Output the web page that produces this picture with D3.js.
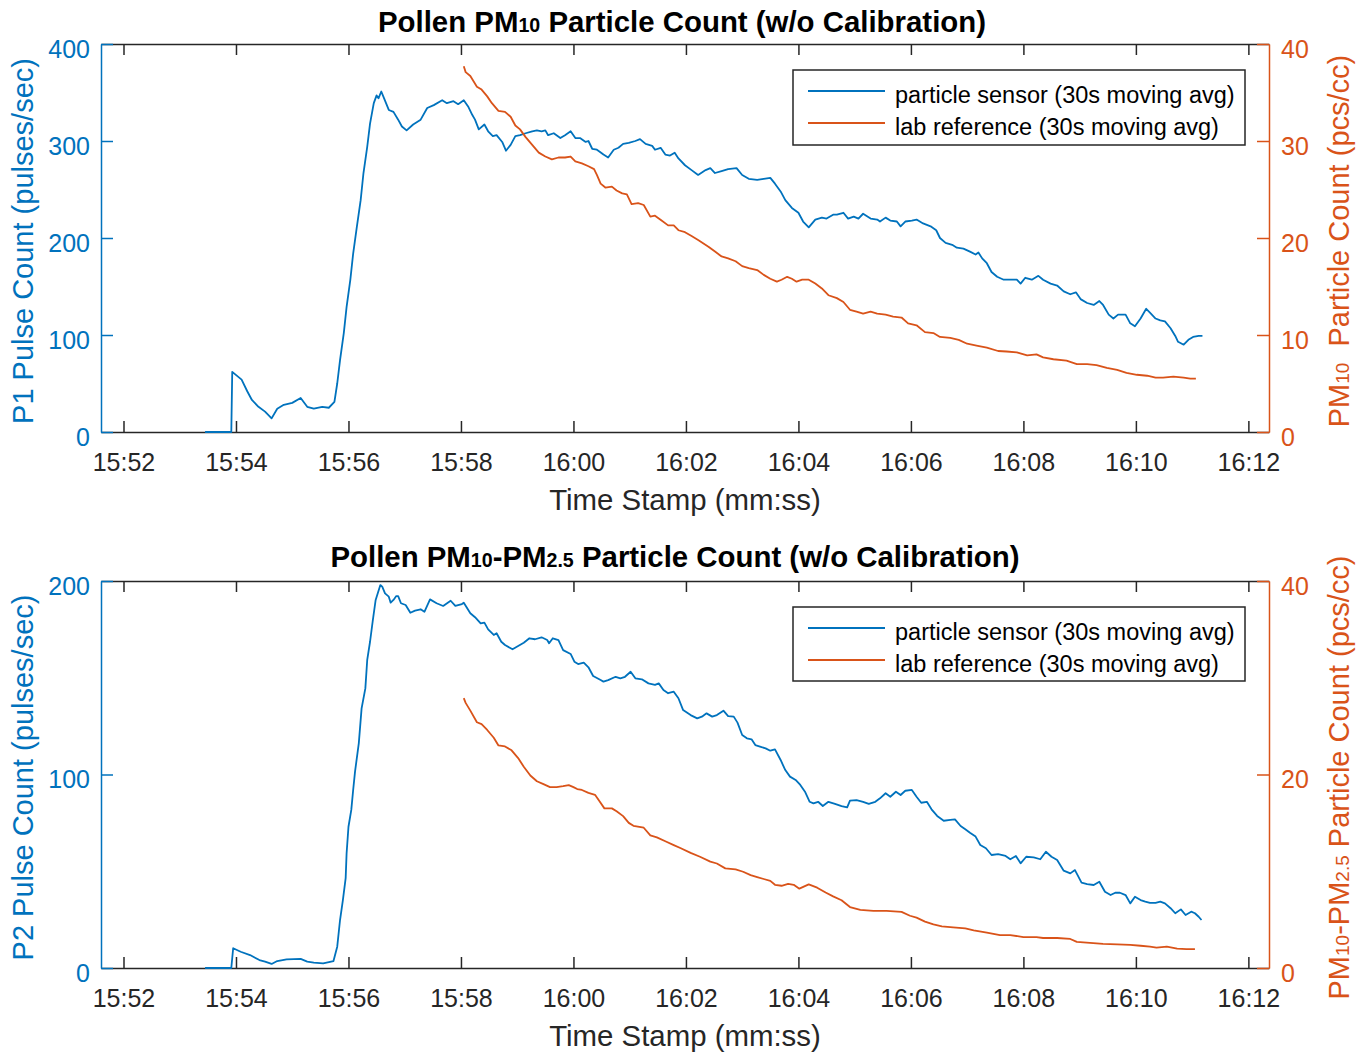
<!DOCTYPE html>
<html>
<head>
<meta charset="utf-8">
<script src="https://cdn.jsdelivr.net/npm/d3@7"></script>
<style>
body { margin: 0; background: #fff; }
text { font-family: "Liberation Sans", Arial, Helvetica, sans-serif; }
</style>
</head>
<body>
<script>
// times are seconds after 15:52:00
const p1Time = [87,115,116,126,132,137,144,151,158,164,
  171,180,189,196,203,212,219,225,228,231,
  235,238,242,245,249,253,256,260,263,267,
  270,272,275,278,283,288,293,297,302,309,
  317,324,331,340,345,352,357,363,368,372,
  375,379,385,389,394,398,404,408,413,418,
  423,429,436,441,446,450,453,459,466,471,
  477,482,487,493,496,500,505,508,512,517,
  523,528,533,539,546,551,557,564,567,573,
  578,583,588,592,599,606,613,621,626,631,
  638,645,654,660,667,676,683,690,695,701,
  706,713,720,725,731,738,745,750,757,761,
  768,773,779,784,789,797,804,807,813,818,
  825,829,834,841,846,853,861,867,871,877,
  884,889,896,903,909,912,916,921,926,932,
  939,946,953,957,962,969,976,981,989,996,
  1003,1010,1016,1021,1028,1035,1041,1045,1051,1056,
  1061,1069,1074,1079,1085,1091,1095,1101,1106,1111,
  1117,1122,1125,1131,1136,1141,1147,1151];
const p1Count = [0,0,62,54,42,33,26,21,14,24,
  28,30,35,26,24,26,25,31,50,74,
  102,129,157,184,212,239,267,294,318,339,
  347,344,351,344,332,330,322,315,311,317,
  322,334,337,342,339,341,338,342,335,327,
  322,312,317,310,305,306,299,290,296,305,
  306,308,310,311,310,311,306,308,303,306,
  310,303,303,299,300,292,291,289,286,283,
  291,293,297,298,300,302,297,295,291,293,
  286,285,288,282,275,270,265,270,272,267,
  269,271,272,265,261,260,261,262,256,248,
  239,231,226,217,211,219,221,220,224,224,
  226,220,222,220,225,220,219,217,221,218,
  217,212,217,218,219,215,212,208,200,195,
  193,190,189,186,183,185,179,174,165,160,
  157,157,157,153,159,157,161,157,153,151,
  145,142,144,137,133,131,135,131,121,117,
  121,121,112,109,117,127,123,117,115,114,
  107,99,93,90,95,98,99,99];

const ref10Time = [363,365,370,377,382,388,393,400,407,413,
  418,423,429,436,443,450,457,464,471,477,
  482,489,496,502,505,509,514,521,526,532,
  537,542,549,555,562,567,574,581,587,592,
  599,606,613,624,631,638,645,653,660,667,
  676,683,690,697,702,708,713,718,724,731,
  738,745,752,761,768,775,782,789,797,804,
  813,821,830,837,846,855,864,871,882,891,
  900,910,921,933,942,953,964,974,981,992,
  1006,1017,1028,1038,1049,1060,1070,1081,1092,1101,
  1109,1120,1131,1138,1144];
const ref10 = [37.7,37.1,36.7,35.6,35.3,34.6,33.9,33.1,33.0,32.5,
  31.6,31.2,30.4,29.6,28.8,28.4,28.1,28.3,28.3,28.4,
  27.9,27.7,27.4,27.1,26.5,25.6,25.2,25.3,24.9,24.6,
  24.5,23.5,23.6,23.4,22.2,22.3,21.8,21.3,21.3,20.8,
  20.6,20.2,19.8,19.1,18.6,18.1,17.9,17.6,17.1,16.9,
  16.7,16.2,15.8,15.5,15.7,16.0,15.8,15.5,15.7,15.7,
  15.3,14.8,14.1,13.8,13.4,12.6,12.4,12.2,12.4,12.2,
  12.1,11.9,11.8,11.2,11.0,10.3,10.2,9.8,9.7,9.5,
  9.1,8.9,8.7,8.35,8.3,8.2,7.9,8.0,7.7,7.5,
  7.35,7.0,7.0,6.9,6.6,6.4,6.1,5.9,5.8,5.6,
  5.6,5.7,5.6,5.5,5.5];

const p2Time = [87,115,117,125,135,145,151,158,164,174,
  189,196,203,213,224,228,231,234,237,238,
  240,243,245,247,251,254,258,260,263,266,
  269,271,274,276,279,283,285,288,291,293,
  296,301,306,311,317,321,327,334,341,349,
  354,361,363,370,375,381,385,389,395,398,
  403,407,415,421,427,433,439,446,452,454,
  458,464,469,477,481,485,491,496,501,509,
  512,517,525,530,535,541,546,553,560,567,
  571,576,581,587,592,597,605,612,617,622,
  628,633,640,645,651,655,660,665,670,674,
  679,685,690,695,701,706,711,717,722,727,
  732,736,741,746,752,759,766,772,775,782,
  789,795,802,807,813,818,824,829,834,841,
  846,851,857,862,868,875,882,887,893,898,
  903,909,914,920,926,933,941,946,952,957,
  963,971,978,984,990,996,1003,1010,1015,1022,
  1028,1035,1041,1047,1053,1058,1063,1069,1074,1079,
  1085,1090,1095,1101,1106,1111,1117,1122,1128,1133,
  1139,1143,1147,1150];
const p2Count = [0,0,10.2,8.4,6.7,4.1,3.3,2.1,3.6,4.5,
  4.7,3.3,2.8,2.4,3.6,11,24.8,35,46.4,59.3,
  73,81.7,92,101.5,116.1,134.2,144.5,159.2,168.6,179.8,
  190.2,193.3,197.9,197.1,193.6,191.9,188.8,190.2,192.2,192.2,
  188.5,187.6,183.6,184.7,185.4,184.1,190.5,188.5,187.1,189.8,
  187.1,188.1,188.8,183.3,181.3,178.1,178.5,175,172.1,173,
  168.6,166.9,164.7,166.4,168.1,170.4,169.9,170.9,169.5,167.8,
  170.4,169.5,164.3,162.3,158.3,157.1,157.8,155.4,150.9,148.8,
  148,148.8,150.5,149.7,150.5,153.1,149.7,149.2,147.1,146.3,
  147.1,143.7,142,142.8,139.4,133.3,130.7,129,129.9,131.6,
  129.9,130.7,133,130.2,129.9,126.8,120.4,118.7,118.2,115.2,
  114.4,113.5,112.3,113,107.5,102.3,98.9,97.2,94.6,91.1,
  85.9,85.1,85.9,83.7,85.9,84.8,83.7,83,86.5,86.8,
  85.9,84.8,85.9,87.7,90.3,88.5,91.1,89.4,91.6,92,
  88.5,85.4,85.9,82,78.6,76.1,76.5,76.8,73.4,71.7,
  69.9,67.9,63.6,61.9,58.4,58.9,57.9,56.2,57.9,54.1,
  57.5,57.2,56.2,60.1,57.5,55.8,50.3,48.9,50.6,44.1,
  43.4,42.9,44.6,39.4,37.7,38.9,38.9,37.7,33.4,36.8,
  35.1,34.3,33.7,33.7,34.3,33.4,30.9,28.3,30.3,27.4,
  29.1,28.3,26.5,24.8];

const ref25Time = [363,365,370,377,382,388,395,400,407,414,
  421,427,434,441,448,455,462,469,475,480,
  484,489,496,503,508,513,521,526,533,539,
  544,555,562,569,578,587,594,605,615,626,
  633,642,653,661,669,676,683,690,695,702,
  709,715,721,731,740,749,757,766,775,786,
  800,814,830,839,846,855,864,873,885,898,
  907,921,935,946,960,974,981,996,1010,1017,
  1031,1045,1060,1074,1085,1095,1102,1113,1124,1134,
  1143];
const ref25 = [27.9,27.4,26.6,25.4,25.2,24.6,23.8,23.0,22.9,22.5,
  21.7,20.8,19.9,19.3,19.0,18.7,18.7,18.8,18.9,18.7,
  18.5,18.4,18.1,17.9,17.2,16.5,16.5,16.2,15.7,15.0,
  14.7,14.5,13.7,13.5,13.1,12.7,12.4,11.9,11.5,11.0,
  10.8,10.3,10.2,9.95,9.6,9.4,9.2,9.0,8.6,8.5,
  8.7,8.6,8.2,8.65,8.3,7.8,7.4,7.0,6.3,6.0,
  5.9,5.9,5.8,5.4,5.2,4.8,4.5,4.3,4.2,4.1,
  3.9,3.65,3.4,3.4,3.2,3.2,3.1,3.1,3.0,2.7,
  2.6,2.5,2.45,2.4,2.3,2.2,2.1,2.2,2.0,1.95,
  1.95];

const legendLabels = ["particle sensor (30s moving avg)", "lab reference (30s moving avg)"];
const p1Ticks = [0,100,200,300,400];
const p2Ticks = [0,100,200];
const ref10Ticks = [0,10,20,30,40];
const ref25Ticks = [0,20,40];

const blue = "#0072BD", orange = "#D95319", ink = "#262626";
const base = new Date(2000, 0, 1, 15, 52, 0);
const at = s => new Date(base.getTime() + s * 1000);

const svg = d3.select("body").append("svg")
  .attr("width", 1370)
  .attr("height", 1055);

const L = 101, R = 1269;
const x = d3.scaleTime()
  .domain([at(-24), at(1222)])
  .range([L, R]);
const timeTicks = d3.range(0, 1201, 120).map(at);

const panels = [
  {top: 44, bottom: 432, leftMax: 400, leftTicks: p1Ticks, rightTicks: ref10Ticks,
   sensorT: p1Time, sensorV: p1Count, refT: ref10Time, refV: ref10,
   title: [["Pollen PM", 29.4], ["10", 19.6], [" Particle Count (w/o Calibration)", 29.4]],
   titleX: 682, titleY: 32,
   leftLabel: "P1 Pulse Count (pulses/sec)",
   rightLabel: [["PM", 29], ["10", 19], ["  Particle Count (pcs/cc)", 29]],
   legendY: 70, legendH: 75},
  {top: 581, bottom: 968, leftMax: 200, leftTicks: p2Ticks, rightTicks: ref25Ticks,
   sensorT: p2Time, sensorV: p2Count, refT: ref25Time, refV: ref25,
   title: [["Pollen PM", 29.4], ["10", 19.6], ["-PM", 29.4], ["2.5", 19.6], [" Particle Count (w/o Calibration)", 29.4]],
   titleX: 675, titleY: 567,
   leftLabel: "P2 Pulse Count (pulses/sec)",
   rightLabel: [["PM", 29], ["10", 19], ["-PM", 29], ["2.5", 19], [" Particle Count (pcs/cc)", 29]],
   legendY: 607, legendH: 74}
];

function styleAxis(g, color, size) {
  g.selectAll(".tick line").attr("stroke", color).attr("stroke-width", 1.5);
  g.selectAll(".tick text").attr("fill", color).attr("font-size", size);
  g.select(".domain").attr("stroke", color).attr("stroke-width", 1.5);
}

panels.forEach(function(p) {
  const yL = d3.scaleLinear().domain([0, p.leftMax]).range([p.bottom, p.top]);
  const yR = d3.scaleLinear().domain([0, 40]).range([p.bottom, p.top]);
  const g = svg.append("g");

  // x axes (bottom with labels, top mirrored)
  const xb = g.append("g")
    .attr("transform", "translate(0," + p.bottom + ")")
    .call(d3.axisBottom(x).tickValues(timeTicks).tickFormat(d3.timeFormat("%H:%M"))
      .tickSizeInner(-11).tickSizeOuter(0).tickPadding(21));
  styleAxis(xb, ink, "25px");
  const xt = g.append("g")
    .attr("transform", "translate(0," + p.top + ")")
    .call(d3.axisTop(x).tickValues(timeTicks).tickFormat("")
      .tickSizeInner(-11).tickSizeOuter(0));
  styleAxis(xt, ink, "25px");

  // data
  const line = (ts, vs, y) => d3.line()
    .x((d, i) => x(at(ts[i])))
    .y((d, i) => y(vs[i]))(vs);
  g.append("path").attr("d", line(p.sensorT, p.sensorV, yL))
    .attr("fill", "none").attr("stroke", blue).attr("stroke-width", 1.8)
    .attr("stroke-linejoin", "round");
  g.append("path").attr("d", line(p.refT, p.refV, yR))
    .attr("fill", "none").attr("stroke", orange).attr("stroke-width", 1.8)
    .attr("stroke-linejoin", "round");

  // y axes
  const yl = g.append("g")
    .attr("transform", "translate(" + L + ",0)")
    .call(d3.axisLeft(yL).tickValues(p.leftTicks).tickSizeInner(-12).tickSizeOuter(0).tickPadding(11));
  styleAxis(yl, blue, "25px");
  yl.selectAll(".tick text").attr("dy", "0.52em");
  const yr = g.append("g")
    .attr("transform", "translate(" + R + ",0)")
    .call(d3.axisRight(yR).tickValues(p.rightTicks).tickSizeInner(-12).tickSizeOuter(0).tickPadding(12));
  styleAxis(yr, orange, "25px");
  yr.selectAll(".tick text").attr("dy", "0.52em");

  // title
  const t = g.append("text")
    .attr("x", p.titleX).attr("y", p.titleY)
    .attr("text-anchor", "middle")
    .attr("font-weight", "bold")
    .attr("fill", "#000");
  p.title.forEach(d => t.append("tspan").attr("font-size", d[1] + "px").text(d[0]));

  // x label
  g.append("text")
    .attr("x", (L + R) / 2).attr("y", p.bottom + 78)
    .attr("text-anchor", "middle")
    .attr("font-size", "29.4px").attr("fill", ink)
    .text("Time Stamp (mm:ss)");

  const mid = (p.top + p.bottom) / 2;
  g.append("text")
    .attr("transform", "translate(33," + (mid + 3) + ") rotate(-90)")
    .attr("text-anchor", "middle")
    .attr("font-size", "29px").attr("fill", blue)
    .text(p.leftLabel);
  const rl = g.append("text")
    .attr("transform", "translate(1349," + (mid + 3) + ") rotate(-90)")
    .attr("text-anchor", "middle")
    .attr("fill", orange);
  p.rightLabel.forEach(d => rl.append("tspan").attr("font-size", d[1] + "px").text(d[0]).style("white-space", "pre"));

  // legend
  const lg = g.append("g");
  lg.append("rect")
    .attr("x", 793).attr("y", p.legendY)
    .attr("width", 452).attr("height", p.legendH)
    .attr("fill", "#fff").attr("stroke", ink).attr("stroke-width", 1.5);
  [blue, orange].forEach(function(c, i) {
    const ly = p.legendY + 21 + i * 32;
    lg.append("line")
      .attr("x1", 808).attr("x2", 885)
      .attr("y1", ly).attr("y2", ly)
      .attr("stroke", c).attr("stroke-width", 1.8);
    lg.append("text")
      .attr("x", 895).attr("y", ly + 12)
      .attr("font-size", "23.5px").attr("fill", "#000")
      .text(legendLabels[i]);
  });
});
</script>
</body>
</html>
